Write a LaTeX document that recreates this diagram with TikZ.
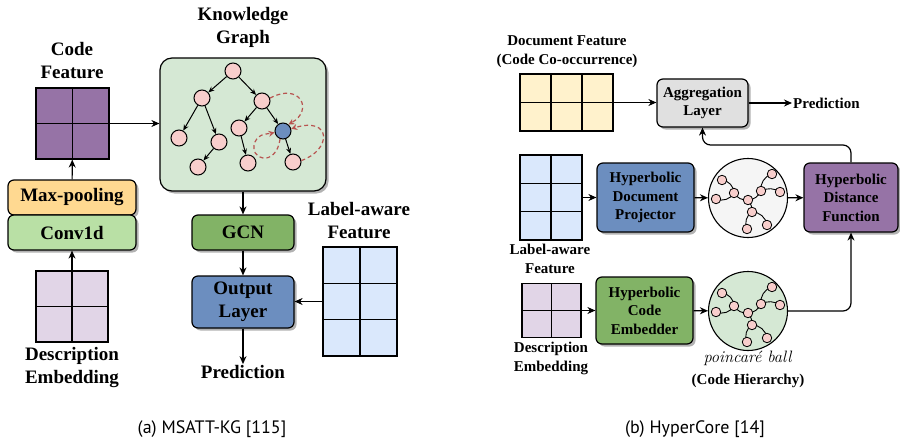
\documentclass[tikz,border=0pt]{standalone}
\usepackage{fontspec}
\newfontfamily\tms{Liberation Serif}
\newfontfamily\capf{PT Sans}
\usetikzlibrary{arrows.meta,shadows,calc}
\definecolor{purp}{HTML}{9673A6}
\definecolor{lpurp}{HTML}{E1D5E7}
\definecolor{yell}{HTML}{FFD991}
\definecolor{cgreen}{HTML}{B9E0A5}
\definecolor{kgg}{HTML}{D5E8D4}
\definecolor{dgreen}{HTML}{82B366}
\definecolor{blu}{HTML}{6C8EBF}
\definecolor{lblue}{HTML}{DAE8FC}
\definecolor{lyel}{HTML}{FFF2CC}
\definecolor{lgray}{HTML}{E0E0E0}
\definecolor{lgray2}{HTML}{F5F5F5}
\definecolor{pnk}{HTML}{F8CECC}
\definecolor{rdd}{HTML}{B85450}
\newcommand\pbtree[1]{%
  \draw[pe] (748,200) to[bend left=30] (734,193);
  \draw[pe] (734,193) to[bend right=40] (722,180);
  \draw[pe] (734,193) to[bend left=40] (716,199);
  \draw[pe] (748,200) to[bend right=30] (761,191);
  \draw[pe] (761,191) to[bend left=40] (772,174);
  \draw[pe] (761,191) to[bend left=30] (780,192);
  \draw[pe] (748,200) to[bend left=20] (752,212);
  \draw[pe] (752,212) to[bend right=40] (747,229);
  \draw[pe] (752,212) to[bend left=40] (767,225);
  \node[pn] (#1c) at (748,200) {};
  \node[pn] (#1a) at (734,193) {};
  \node[pn] (#1a1) at (722,180) {};
  \node[pn] (#1a2) at (716,199) {};
  \node[pn] (#1b) at (761,191) {};
  \node[pn] (#1b1) at (772,174) {};
  \node[pn] (#1b2) at (780,192) {};
  \node[pn] (#1d) at (752,212) {};
  \node[pn] (#1d1) at (747,229) {};
  \node[pn] (#1d2) at (767,225) {};
}
\begin{document}
\begin{tikzpicture}[x=1pt,y=-1pt,
  lw/.style={line width=1.2pt},
  arr/.style={line width=1.2pt,-{Stealth[length=8pt,width=7pt]}},
  box/.style={draw,line width=1.2pt,rounded corners=6pt,align=center,inner sep=0pt,
    drop shadow={shadow xshift=2.5pt,shadow yshift=-2.5pt,fill=black,opacity=0.3},
    font=\tms\bfseries\fontsize{19}{23}\selectfont},
  rfont/.style={font=\tms\bfseries\fontsize{15}{18.5}\selectfont},
  lbl/.style={align=center,inner sep=2pt,font=\tms\bfseries\fontsize{19}{23}\selectfont},
  rlbl/.style={align=center,inner sep=2pt,font=\tms\bfseries\fontsize{15}{19}\selectfont},
  grid2/.style={draw,line width=1.2pt,inner sep=0pt,path picture={
    \draw[line width=1.2pt] (path picture bounding box.north) -- (path picture bounding box.south)
      (path picture bounding box.west) -- (path picture bounding box.east);}},
  grid23/.style={draw,line width=1.2pt,inner sep=0pt,path picture={
    \draw[line width=1.2pt] (path picture bounding box.north) -- (path picture bounding box.south)
      ($(path picture bounding box.north west)!1/3!(path picture bounding box.south west)$) --
      ($(path picture bounding box.north east)!1/3!(path picture bounding box.south east)$)
      ($(path picture bounding box.north west)!2/3!(path picture bounding box.south west)$) --
      ($(path picture bounding box.north east)!2/3!(path picture bounding box.south east)$);}},
  grid32/.style={draw,line width=1.2pt,inner sep=0pt,path picture={
    \draw[line width=1.2pt] (path picture bounding box.west) -- (path picture bounding box.east)
      ($(path picture bounding box.north west)!1/3!(path picture bounding box.north east)$) --
      ($(path picture bounding box.south west)!1/3!(path picture bounding box.south east)$)
      ($(path picture bounding box.north west)!2/3!(path picture bounding box.north east)$) --
      ($(path picture bounding box.south west)!2/3!(path picture bounding box.south east)$);}},
  tn/.style={circle,draw,fill=pnk,minimum size=16pt,inner sep=0pt,line width=1pt},
  te/.style={line width=1pt,-{Stealth[length=6pt,width=5pt]}},
  rdash/.style={draw=rdd,line width=1.2pt,dash pattern=on 4pt off 3pt,-{Stealth[length=6pt,width=6pt]}},
  pn/.style={circle,draw,fill=pnk,minimum size=9.5pt,inner sep=0pt,line width=0.8pt},
  pe/.style={line width=0.9pt},
  capt/.style={font=\capf\fontsize{18}{21}\selectfont}
]
\useasboundingbox (0,0) rectangle (900,444);

% ---------- (a) ----------
\node[lbl] (cfl) at (72,61) {Code\\Feature};
\node[grid2,fill=purp,minimum width=73pt,minimum height=71pt] (cfg) at (72.5,123.5) {};
\node[box,fill=yell,minimum width=128pt,minimum height=35pt] (mp) at (72,197.5) {Max-pooling};
\node[box,fill=cgreen,minimum width=128pt,minimum height=35pt] (cv) at (72,232.5) {Conv1d};
\node[grid2,fill=lpurp,minimum width=72pt,minimum height=71pt] (deg) at (72,306.5) {};
\node[lbl] (del) at (72,368) {Description\\Embedding};
\draw[arr] (deg) -- (cv);
\draw[arr] (mp) -- (cfg);

\node[lbl] (kgl) at (243,27) {Knowledge\\Graph};
\node[box,fill=kgg,rounded corners=12pt,minimum width=166pt,minimum height=133pt] (kg) at (243,124.5) {};
\draw[arr] (cfg.east) -- (cfg.east -| kg.west);

\node[tn] (r) at (233,71) {};
\node[tn] (n1) at (202,98) {};
\node[tn] (n2) at (262,101) {};
\node[tn] (n3) at (179,138) {};
\node[tn] (n4) at (219,142) {};
\node[tn] (n5) at (198,167) {};
\node[tn] (n6) at (239,128) {};
\node[tn] (n7) at (248,163) {};
\node[tn,fill=blu] (bl) at (283,131) {};
\node[tn] (n8) at (293,162) {};
\draw[te] (r) -- (n1);
\draw[te] (r) -- (n2);
\draw[te] (n1) -- (n3);
\draw[te] (n1) -- (n4);
\draw[te] (n4) -- (n5);
\draw[te] (n2) -- (n6);
\draw[te] (n2) -- (bl);
\draw[te] (n6) -- (n7);
\draw[te] (bl) -- (n8);
\draw[rdash] (n2.20) .. controls (300,82) and (314,110) .. (bl.50);
\draw[rdash] (n8.10) .. controls (332,150) and (332,116) .. (bl.15);
\draw[rdash] (bl.250) .. controls (276,168) and (248,160) .. (255,142) .. controls (259,133) and (268,134) .. (bl.190);

\node[box,fill=dgreen,minimum width=102pt,minimum height=35pt] (gcn) at (243,232.5) {GCN};
\node[box,fill=blu,minimum width=102pt,minimum height=52pt] (out) at (243,302) {Output\\Layer};
\node[lbl,inner sep=1pt] (pred) at (243,372) {Prediction};
\draw[arr] (kg.south -| gcn.north) -- (gcn.north);
\draw[arr] (gcn) -- (out);
\draw[arr] (out) -- (pred);

\node[lbl] (lal) at (359,221) {Label-aware\\Feature};
\node[grid23,fill=lblue,minimum width=74pt,minimum height=109pt] (lag) at (360,301.5) {};
\draw[arr] (lag.west) -- (lag.west -| out.east);

% ---------- (b) ----------
\node[rlbl] (dfl) at (567,52) {Document Feature\\(Code Co-occurrence)};
\node[grid32,fill=lyel,minimum width=93pt,minimum height=57pt] (dfg) at (566.5,102.5) {};
\node[box,rfont,fill=lgray,minimum width=91pt,minimum height=48pt] (agg) at (702.5,103) {Aggregation\\Layer};
\node[rlbl,anchor=west,inner sep=1pt] (rpred) at (792,103) {Prediction};
\draw[arr] (dfg.east) -- (dfg.east -| agg.west);
\draw[arr] (agg.east) -- (rpred.west);

\node[grid23,fill=lblue,minimum width=62pt,minimum height=85pt] (lag2) at (551,197.5) {};
\node[rlbl] (lal2) at (550,259) {Label-aware\\Feature};
\node[box,rfont,fill=blu,minimum width=97pt,minimum height=69pt] (hdp) at (645.5,197.5) {Hyperbolic\\Document\\Projector};
\node[circle,draw,fill=lgray2,minimum size=79pt,inner sep=0pt,line width=1.1pt] (pb1) at (748,198) {};
\node[box,rfont,fill=purp,minimum width=94pt,minimum height=69pt] (hdf) at (851,197.5) {Hyperbolic\\Distance\\Function};
\draw[arr] (lag2) -- (hdp);
\draw[arr] (hdp) -- (pb1);
\draw[arr] (pb1) -- (hdf);
\pbtree{u}

\node[grid2,fill=lpurp,minimum width=59pt,minimum height=54pt] (deg2) at (551.5,310.5) {};
\node[rlbl] (del2) at (551,358) {Description\\Embedding};
\node[box,rfont,fill=dgreen,minimum width=97pt,minimum height=67pt] (hce) at (644.5,310.5) {Hyperbolic\\Code\\Embedder};
\node[circle,draw,fill=kgg,minimum size=79pt,inner sep=0pt,line width=1.1pt] (pb2) at (748,311) {};
\begin{scope}[shift={(0,113)}]
\pbtree{v}
\end{scope}
\node[font=\fontsize{16.5}{19}\selectfont] (pbl) at (748,358) {\textit{poincar\'e ball}};
\node[rlbl] (chl) at (748,381) {(Code Hierarchy)};
\draw[arr] (deg2) -- (hce);
\draw[arr] (hce) -- (pb2);
\draw[arr,rounded corners=8pt] (pb2.east) -| (hdf.south);
\draw[arr,rounded corners=8pt] (hdf.north) -- (hdf.north |- 0,145) -- (agg.south |- 0,145) -- (agg.south);

% captions
\node[capt] (ca) at (212,429) {(a) MSATT-KG [115]};
\node[capt] (cb) at (695,429) {(b) HyperCore [14]};
\end{tikzpicture}
\end{document}
